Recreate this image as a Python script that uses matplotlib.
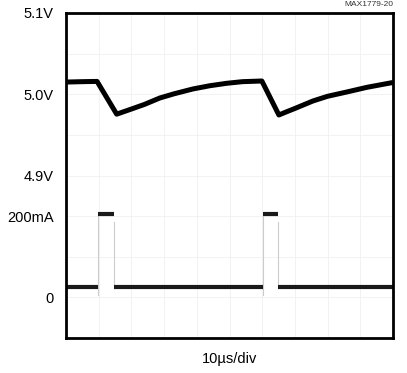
import numpy as np
from matplotlib import pyplot as plt

# Scope settings: 10 horizontal divisions, 8 vertical divisions
# Voltage channel: 50mV/div, 5.1V at top (div 8)
# Current channel: 100mA/div, 0mA at div 1
v_per_div = 0.05
v_top = 5.1
i_per_div = 100.
i_zero_div = 1.

# Output voltage trace (time in us, volts)
t_v = [0, 5, 9.5, 15.5, 18, 20, 24, 28.7, 33, 38.8, 44, 49.2, 54, 59.9,
       65.1, 67.5, 70, 75.5, 80, 85.9, 92, 100]
v_out = [5.0150, 5.0155, 5.0158, 4.9755, 4.9790, 4.9818, 4.9875, 4.9954, 5.0005, 5.0065,
         5.0105, 5.0135, 5.0155, 5.0163,
         4.9745, 4.9785, 4.9825, 4.9917, 4.9975, 5.0028, 5.0085, 5.0145]

# Load current trace (time in us, mA)
t_i = [0, 9.8, 9.8, 14.8, 14.8, 60.2, 60.2, 64.8, 64.8, 100]
i_load = [25, 25, 205, 205, 25, 25, 205, 205, 25, 25]

# Y labels
ylabels = ['5.1V', '5.0V', '4.9V', '200mA', '0']
ylabel_div = [8 - (5.1 - 5.1)/v_per_div, 8 - (5.1 - 5.0)/v_per_div, 8 - (5.1 - 4.9)/v_per_div,
              i_zero_div + 200/i_per_div, i_zero_div + 0/i_per_div]

def v2div(v):
    return 8 - (v_top - np.asarray(v))/v_per_div

def i2div(i):
    return i_zero_div + np.asarray(i)/i_per_div

plt.rcParams['font.family'] = ['Liberation Sans Narrow', 'Liberation Sans', 'DejaVu Sans']

fig = plt.figure(figsize=(4.07, 3.73), dpi=100)
ax = fig.add_axes([66/407, 35/373, 327/407, 325/373])

# faint graticule
for k in range(1, 10):
    ax.axvline(k*10, color='#f0f0f0', lw=0.6, zorder=0)
for k in range(1, 8):
    ax.axhline(k, color='#f0f0f0', lw=0.6, zorder=0)

# voltage
ax.plot(t_v, v2div(v_out), color='black', lw=3.6, solid_capstyle='butt', solid_joinstyle='round')

# current: flat parts thick, edges thin
ti = np.array(t_i); yi = i2div(i_load)
for k in range(len(ti) - 1):
    if ti[k] == ti[k+1]:
        ax.plot([ti[k], ti[k+1]], [yi[k] - 0.2, yi[k+1]], color='#cccccc', lw=0.8, zorder=1)
    else:
        ax.plot([ti[k], ti[k+1]], [yi[k], yi[k+1]], color='#1a1a1a', lw=3.0,
                solid_capstyle='butt', zorder=2)

ax.set_xlim(0, 100)
ax.set_ylim(0, 8)
ax.set_xticks([])
ax.set_yticks(ylabel_div)
ax.set_yticklabels(ylabels, fontsize=10.5)
ax.tick_params(axis='y', length=0, pad=9)
for s in ax.spines.values():
    s.set_linewidth(2)

ax.set_xlabel('10\u00b5s/div', fontsize=10.5, labelpad=10)
fig.text(393/407, 1 - 5/373, 'MAX1779-20', fontsize=6, ha='right', va='center', color='#333333')

fig.savefig('out.png', dpi=100)
